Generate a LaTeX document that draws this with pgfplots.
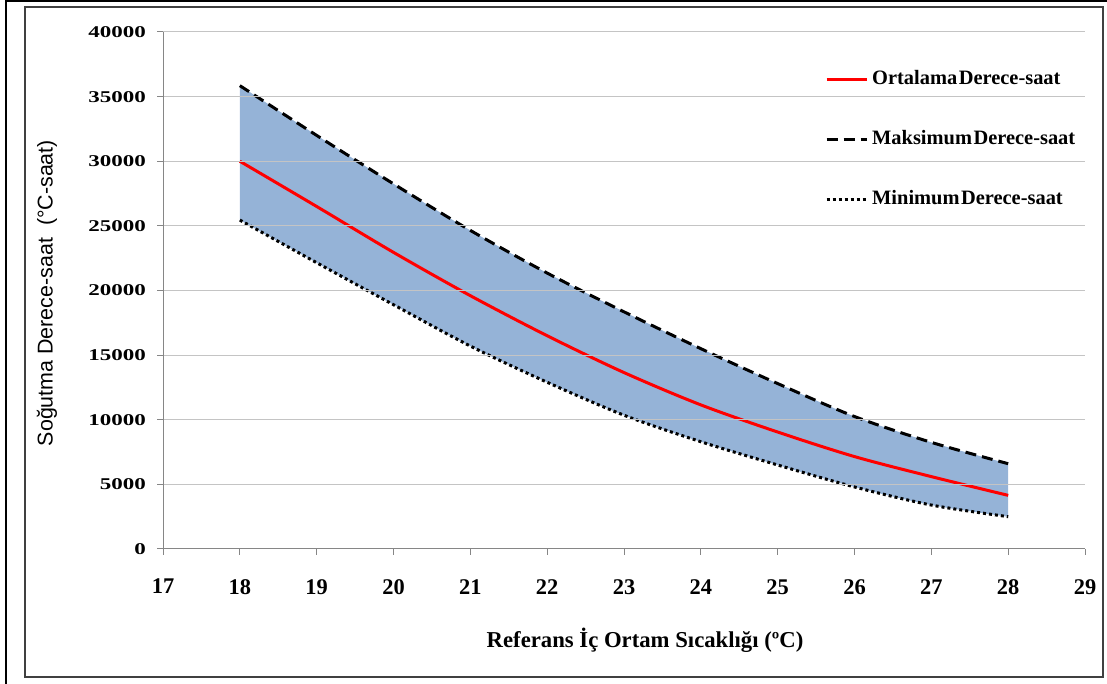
\documentclass[border=0pt]{standalone}
\usepackage{fontspec}
\setmainfont{Liberation Serif}
\newfontfamily\arialfont{Liberation Sans}
\usepackage{graphicx}
\usepackage{pgfplots}
\pgfplotsset{compat=1.18}
\usepgfplotslibrary{fillbetween}
\definecolor{band}{HTML}{95B3D7}
\definecolor{gridc}{HTML}{C4C4C4}
\definecolor{axc}{HTML}{868686}

\begin{document}
\begin{tikzpicture}
\draw[line width=2.5bp] (6bp,-20bp) -- (6bp,683bp) -- (1130bp,683bp);
\draw[line width=1.2bp, black!75] (25bp,7bp) rectangle (1103bp,677bp);
\begin{axis}[
  at={(163bp,135bp)}, anchor=south west,
  width=922bp, height=517bp, scale only axis,
  xmin=17, xmax=29, ymin=0, ymax=40000,
  xtick={17,18,...,29}, ytick={0,5000,...,40000},
  axis x line*=bottom, axis y line*=left,
  axis line style={axc, line width=1bp, -},
  tick style={axc, line width=1bp},
  tick align=outside, major tick length=6bp,
  ymajorgrids, grid style={gridc, line width=1bp},
  axis on top,
  scaled y ticks=false,
  /pgf/number format/1000 sep={},
  /pgf/number format/assume math mode=true,
  xticklabel style={font=\fontsize{22.5}{22}\selectfont\bfseries, anchor=north, inner sep=0pt, yshift=-24bp},
  yticklabel={\scalebox{1.4}[1]{\pgfmathprintnumber{\tick}}},
  yticklabel style={font=\fontsize{16.5}{16}\selectfont\bfseries, anchor=east, inner sep=0pt, xshift=-11bp},
  xlabel={Referans İç Ortam Sıcaklığı (ºC)},
  xlabel style={font=\fontsize{22.8}{22}\selectfont\bfseries, at={(axis description cs:0.5228,0)}, anchor=base, yshift=-98bp},
  ylabel={\arialfont Soğutma Derece-saat\ \ (°C-saat)},
  ylabel style={font=\fontsize{21.5}{21}\selectfont, at={(axis description cs:0,0.495)}, anchor=center, yshift=116bp},
  legend style={draw=none, fill=none, at={(axis description cs:0.718,0.9265)}, anchor=north west,
    font=\fontsize{20.5}{20}\selectfont\bfseries, inner sep=0pt, row sep=42bp, column sep=4bp,
    nodes={inner sep=0pt, text height=14bp, text depth=4bp}},
  legend cell align=left,
  legend image code/.code={\draw[#1] (0bp,0bp) -- (40bp,0bp);},
]
\addplot[name path=maxp, draw=none, forget plot, smooth] coordinates {
(18,35850) (19,32000) (20,28250) (21,24650) (22,21350) (23,18350) (24,15500) (25,12800) (26,10250) (27,8250) (28,6600)};
\addplot[name path=minp, draw=none, forget plot, smooth] coordinates {
(18,25450) (19,22150) (20,18900) (21,15700) (22,12900) (23,10350) (24,8300) (25,6500) (26,4800) (27,3400) (28,2500)};
\addplot[band, forget plot] fill between[of=maxp and minp];

\addplot[red, line width=3bp, smooth] coordinates {
(18,30000) (19,26500) (20,22950) (21,19600) (22,16500) (23,13650) (24,11150) (25,9050) (26,7150) (27,5600) (28,4150)};
\addlegendentry{Ortalama\hspace{1.5bp}Derece-saat}
\addplot[black, line width=3bp, dash pattern=on 11bp off 6bp, smooth] coordinates {
(18,35850) (19,32000) (20,28250) (21,24650) (22,21350) (23,18350) (24,15500) (25,12800) (26,10250) (27,8250) (28,6600)};
\addlegendentry{Maksimum\hspace{1.5bp}Derece-saat}
\addplot[black, line width=3bp, dash pattern=on 3bp off 3bp, smooth] coordinates {
(18,25450) (19,22150) (20,18900) (21,15700) (22,12900) (23,10350) (24,8300) (25,6500) (26,4800) (27,3400) (28,2500)};
\addlegendentry{Minimum\hspace{1.5bp}Derece-saat}
\end{axis}
\pgfresetboundingbox
\useasboundingbox (0bp,0bp) rectangle (1107bp,684bp);
\end{tikzpicture}
\end{document}
